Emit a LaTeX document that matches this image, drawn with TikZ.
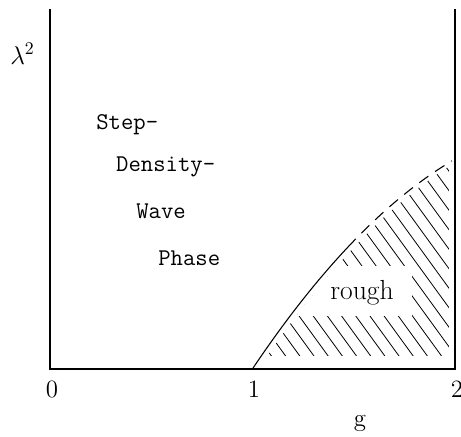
\documentclass[tikz,border=0pt]{standalone}
\begin{document}
\begin{tikzpicture}[
  x=4cm,
  y=4cm,
  axis/.style={draw=black,line width=1.1pt},
  boundary/.style={draw=black,line width=0.6pt},
  hatch/.style={draw=black,line width=0.45pt},
  regionlabel/.style={anchor=base west,font=\fontsize{13.5}{15}\ttfamily},
  tick/.style={anchor=base,font=\fontsize{14}{16}\selectfont},
  declare function={h(\t)=1.49*\t-0.454*\t*\t;}
]
  \useasboundingbox (-0.247,-0.336) rectangle (2.030,1.822);

  \begin{scope}
    \clip plot[domain=0:0.985,samples=40] ({1.03+\x},{h(\x)}) -- (2.1,1.1) -- (2.1,0) -- cycle;
    \clip (1.0,0.068) rectangle (1.97,1.2);
    \foreach \a in {1.00,1.07,...,2.90}
      \draw[hatch] (\a,0) -- ++(-0.85,1.17);
    \fill[white] (1.0,0.26) rectangle (1.79,0.51);
  \end{scope}

  \draw[boundary] plot[domain=0:0.472,samples=30] ({1+\x},{h(\x)});
  \draw[boundary,dash pattern=on 0.22cm off 0.16cm] plot[domain=0.472:0.985,samples=30] ({1+\x},{h(\x)});

  \draw[axis] (0,1.778) -- (0,0) -- (2,0) -- (2,1.778);

  \node[font=\fontsize{14}{16}\selectfont] (lam) at (-0.136,1.556) {$\lambda^{2}$};
  \node[regionlabel] (step) at (0.198,1.180) {Step-};
  \node[regionlabel] (density) at (0.296,0.973) {Density-};
  \node[regionlabel] (wave) at (0.395,0.741) {Wave};
  \node[regionlabel] (phase) at (0.504,0.509) {Phase};
  \node[anchor=base,font=\fontsize{15.5}{18}\selectfont] (rough) at (1.541,0.341) {rough};

  \node[tick] (g0) at (0.01,-0.143) {0};
  \node[tick] (g1) at (1.007,-0.143) {1};
  \node[tick] (g2) at (2.01,-0.143) {2};
  \node[tick] (gname) at (1.531,-0.286) {g};
\end{tikzpicture}
\end{document}
